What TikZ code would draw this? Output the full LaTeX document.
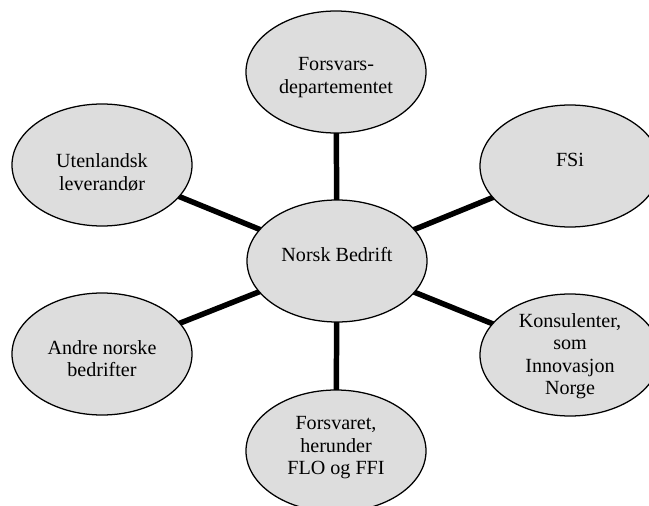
\documentclass[tikz,border=0pt]{standalone}
\usepackage{fontspec}
\setmainfont{Liberation Serif}
\usetikzlibrary{shapes.geometric,backgrounds}
\definecolor{bubblegray}{RGB}{221,221,221}
\begin{document}
\begin{tikzpicture}[
  bubble/.style={ellipse,draw=black,line width=0.9pt,fill=bubblegray,minimum width=4.5cm,minimum height=3.05cm,inner sep=0pt},
  txt/.style={align=center,font=\fontsize{14.3}{16}\selectfont},
  link/.style={line width=3.9pt}]
\useasboundingbox (0,0) rectangle (16.225,-12.65);
\node[bubble,label={[txt,yshift=0.15cm]center:Norsk Bedrift}] (nb) at (8.425,-6.525) {};
\node[bubble,label={[txt,yshift=-0.14cm]center:Forsvars-\\departementet}] (fd) at (8.4,-1.8) {};
\node[bubble,label={[txt,yshift=0.15cm]center:FSi}] (fsi) at (14.25,-4.15) {};
\node[bubble,label={[txt,yshift=-0.18cm]center:Utenlandsk\\leverandør}] (ul) at (2.55,-4.125) {};
\node[bubble,label={[txt,yshift=-0.12cm]center:Andre norske\\bedrifter}] (anb) at (2.55,-8.85) {};
\node[bubble,label={[txt,yshift=-0.03cm]center:Konsulenter,\\som\\Innovasjon\\Norge}] (kons) at (14.25,-8.875) {};
\node[bubble,label={[txt,yshift=0.08cm]center:Forsvaret,\\herunder\\FLO og FFI}] (fors) at (8.4,-11.275) {};
\begin{scope}[on background layer]
\draw[link] (nb.center) -- (fd.center);
\draw[link] (nb.center) -- (fsi.center);
\draw[link] (nb.center) -- (ul.center);
\draw[link] (nb.center) -- (anb.center);
\draw[link] (nb.center) -- (kons.center);
\draw[link] (nb.center) -- (fors.center);
\end{scope}
\end{tikzpicture}
\end{document}
